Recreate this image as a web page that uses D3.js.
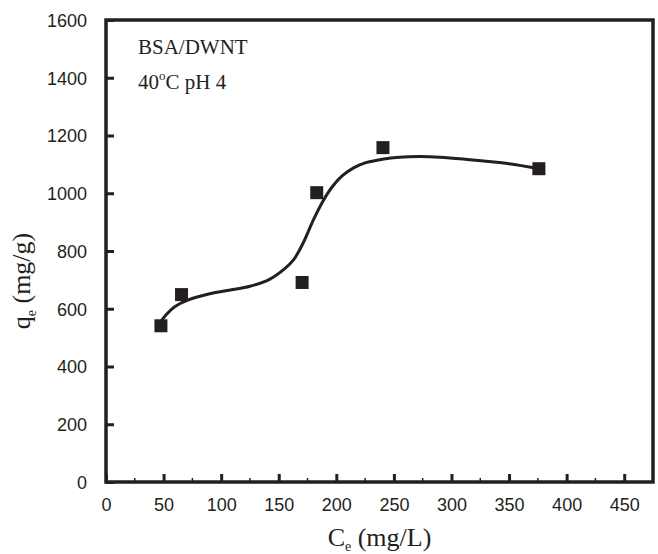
<!DOCTYPE html>
<html>
<head>
<meta charset="utf-8">
<script src="https://cdn.jsdelivr.net/npm/d3@7"></script>
<style>
  body { margin: 0; background: #fff; }
  .axis text { font-family: "Liberation Sans", Arial, sans-serif; font-size: 18px; fill: #231f20; }
  .axis path, .axis line { stroke: #231f20; }
</style>
</head>
<body>
<svg id="chart" width="658" height="554"></svg>
<script>
// measured points
var ceVals = [47.7, 65.6, 170.3, 183, 240.5, 375.9];
var qeVals = [541, 649, 691, 1002, 1158, 1085];

// fitted curve
var fitX = [47, 52, 60, 71, 90, 108, 125, 142, 155, 163, 171, 180, 188, 196, 205, 215, 225, 240, 255, 272, 290, 310, 330, 350, 376];
var fitY = [552, 578, 608, 630, 652, 665, 678, 702, 738, 770, 826, 907, 970, 1020, 1060, 1088, 1105, 1118, 1125, 1127, 1125, 1119, 1111, 1102, 1085];

var xTicks = [0, 50, 100, 150, 200, 250, 300, 350, 400, 450];
var xMinor = [25, 75, 125, 175, 225, 275, 325, 375, 425];
var yTicks = [0, 200, 400, 600, 800, 1000, 1200, 1400, 1600];

var ink = "#231f20";

var svg = d3.select("#chart"),
    margin = {top: 20, right: 5, bottom: 72, left: 106},
    width = +svg.attr("width") - margin.left - margin.right,
    height = +svg.attr("height") - margin.top - margin.bottom;

var x = d3.scaleLinear().domain([0, 475]).range([0, width]),
    y = d3.scaleLinear().domain([0, 1600]).range([height, 0]);

var g = svg.append("g")
    .attr("transform", "translate(" + margin.left + "," + margin.top + ")");

// x axis, ticks pointing in
var xa = g.append("g")
    .attr("class", "axis")
    .attr("transform", "translate(0," + height + ")")
    .call(d3.axisBottom(x).tickValues(xTicks).tickFormat(d3.format("d"))
        .tickSize(-8).tickPadding(16).tickSizeOuter(0));
xa.selectAll("line").attr("stroke-width", 3);
xa.select(".domain").remove();

g.append("g")
    .attr("transform", "translate(0," + height + ")")
    .selectAll("line")
    .data(xMinor)
    .enter().append("line")
        .attr("x1", function(d) { return x(d); })
        .attr("x2", function(d) { return x(d); })
        .attr("y1", 0).attr("y2", -4)
        .attr("stroke", ink).attr("stroke-width", 1.5);

var ya = g.append("g")
    .attr("class", "axis")
    .call(d3.axisLeft(y).tickValues(yTicks).tickFormat(d3.format("d"))
        .tickSize(-8).tickPadding(19).tickSizeOuter(0));
ya.selectAll("line").attr("stroke-width", 3);
ya.select(".domain").remove();
ya.selectAll("text").attr("dy", "0.36em");

// frame
g.append("rect")
    .attr("x", 0).attr("y", 0)
    .attr("width", width).attr("height", height)
    .attr("fill", "none")
    .attr("stroke", ink)
    .attr("stroke-width", 3.5);

// fitted curve
var line = d3.line()
    .x(function(d, i) { return x(fitX[i]); })
    .y(function(d) { return y(d); })
    .curve(d3.curveCatmullRom.alpha(0.5));

g.append("path")
    .datum(fitY)
    .attr("d", line)
    .attr("fill", "none")
    .attr("stroke", ink)
    .attr("stroke-width", 3);

// points
var sz = 13;
g.selectAll(".pt")
    .data(ceVals)
    .enter().append("rect")
        .attr("class", "pt")
        .attr("x", function(d) { return x(d) - sz / 2; })
        .attr("y", function(d, i) { return y(qeVals[i]) - sz / 2; })
        .attr("width", sz)
        .attr("height", sz)
        .attr("fill", ink);

// annotation
var serif = "'Liberation Serif', 'Times New Roman', serif";
g.append("text")
    .attr("x", 32).attr("y", 34)
    .attr("font-family", serif).attr("font-size", 21).attr("fill", ink)
    .text("BSA/DWNT");

var t2 = g.append("text")
    .attr("x", 32).attr("y", 69)
    .attr("font-family", serif).attr("font-size", 21).attr("fill", ink);
t2.append("tspan").text("40");
t2.append("tspan").attr("dy", -9).attr("font-size", 13).text("o");
t2.append("tspan").attr("dy", 9).text("C pH 4");

// axis titles
var xt = svg.append("text")
    .attr("x", margin.left + width / 2)
    .attr("y", 546)
    .attr("text-anchor", "middle")
    .attr("font-family", serif).attr("font-size", 26).attr("fill", ink);
xt.append("tspan").text("C");
xt.append("tspan").attr("dy", 5).attr("font-size", 14).text("e");
xt.append("tspan").attr("dy", -5).text(" (mg/L)");

var yt = svg.append("text")
    .attr("transform", "translate(30,281) rotate(-90)")
    .attr("text-anchor", "middle")
    .attr("font-family", serif).attr("font-size", 26).attr("fill", ink);
yt.append("tspan").text("q");
yt.append("tspan").attr("dy", 6).attr("font-size", 14).text("e");
yt.append("tspan").attr("dy", -6).text(" (mg/g)");
</script>
</body>
</html>
